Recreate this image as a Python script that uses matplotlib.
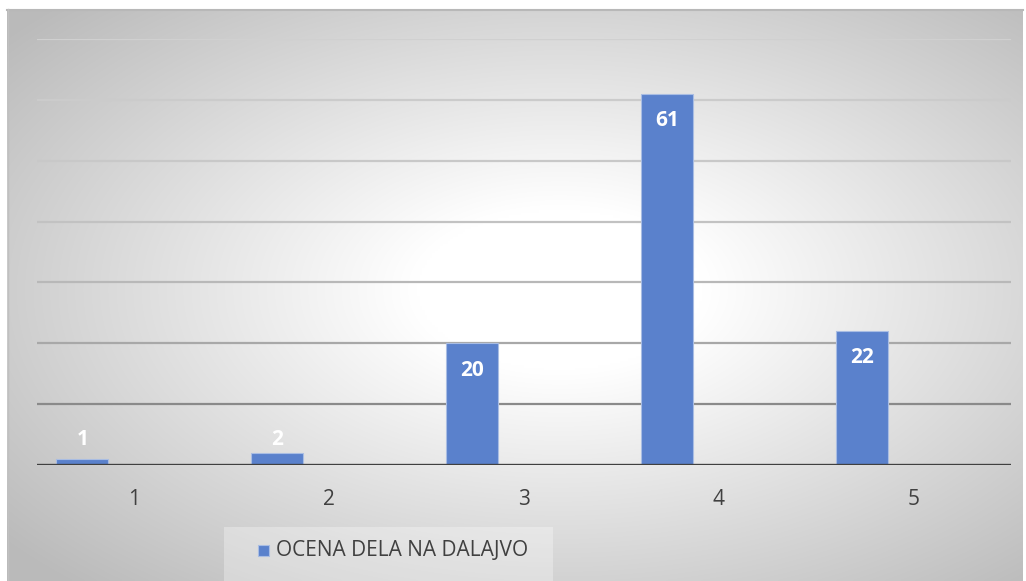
import numpy as np
import matplotlib
matplotlib.use("Agg")
import matplotlib.pyplot as plt
from matplotlib.patches import Rectangle

categories = ["1", "2", "3", "4", "5"]
values = [1, 2, 20, 61, 22]
series_name = "OCENA DELA NA DALAJVO"
grid_levels = [10, 20, 30, 40, 50, 60, 70]

W, H = 1026, 581
fig = plt.figure(figsize=(W / 100, H / 100), dpi=100)
fig.patch.set_facecolor("white")

# background chart area with radial gradient
bg = fig.add_axes([0, 0, 1, 1])
bg.set_xlim(0, W)
bg.set_ylim(H, 0)
bg.axis("off")
x0, y0, x1, y1 = 7, 9, 1023, 581
xs = np.linspace(x0, x1, 400)
ys = np.linspace(y0, y1, 240)
X, Y = np.meshgrid(xs, ys)
cx, cy = 560, 290
dx = (X - cx) / ((x1 - x0) / 2)
dy = (Y - cy) / ((y1 - y0) / 2)
r = np.sqrt(dx ** 2 + dy ** 2) / np.sqrt(2)
t = np.clip((r - 0.2) / 0.8, 0, 1)
g = 1.0 - 0.27 * t ** 1.0
img = np.dstack([g, g, g])
bg.imshow(img, extent=[x0, x1, y1, y0], aspect="auto", interpolation="bilinear", zorder=0)
bg.plot([x0, x1], [y0 + 0.5, y0 + 0.5], color="#b8b8b8", lw=1.5, zorder=1)
bg.plot([x0 + 0.5, x0 + 0.5], [y0, y1], color="#c0c0c0", lw=1, zorder=1)

# legend box
bg.add_patch(Rectangle((224, 527), 329, 54, facecolor="white", alpha=0.3, edgecolor="none", zorder=2))
bg.add_patch(Rectangle((258, 545), 11, 11, facecolor="#5a81cc", edgecolor="#a9bde3", lw=0.8, zorder=3))
bg.text(276, 551, series_name, fontsize=15, family="Open Sans", color="#404040",
        va="center", ha="left", zorder=3)

ax = fig.add_axes([37 / W, (H - 465) / H, 974 / W, 426 / H])
ax.patch.set_alpha(0)
ax.set_xlim(0.5, 5.5)
ax.set_ylim(0, 70)

grid_cols = ["#8a8a8a", "#a8a8a8", "#b8b8b8", "#c2c2c2", "#c8c8c8", "#cbcbcb", "#d0d0d0"]
for lvl, c in zip(grid_levels, grid_cols):
    ax.axhline(lvl, color=c, lw=1.6, zorder=1)

pos = np.arange(1, len(categories) + 1)
bw = 52 / 194.8
bars = ax.bar(pos - bw, values, width=bw, color="#5a81cc", edgecolor="#a9bde3",
              linewidth=0.8, zorder=2)
for p, v in zip(pos, values):
    ly = v - 4.4 if v > 10 else 4.2
    ax.text(p - bw, ly, str(v), ha="center", va="center", color="white",
            fontsize=15, fontweight="bold", family="Open Sans", zorder=3)

ax.axhline(0, color="#404040", lw=2.4, zorder=4)
for s in ax.spines.values():
    s.set_visible(False)
ax.set_yticks([])
ax.set_xticks(pos)
ax.set_xticklabels(categories, fontsize=15, family="Open Sans", color="#404040")
ax.tick_params(axis="x", length=0, pad=17)

fig.savefig("out.png", dpi=100)
